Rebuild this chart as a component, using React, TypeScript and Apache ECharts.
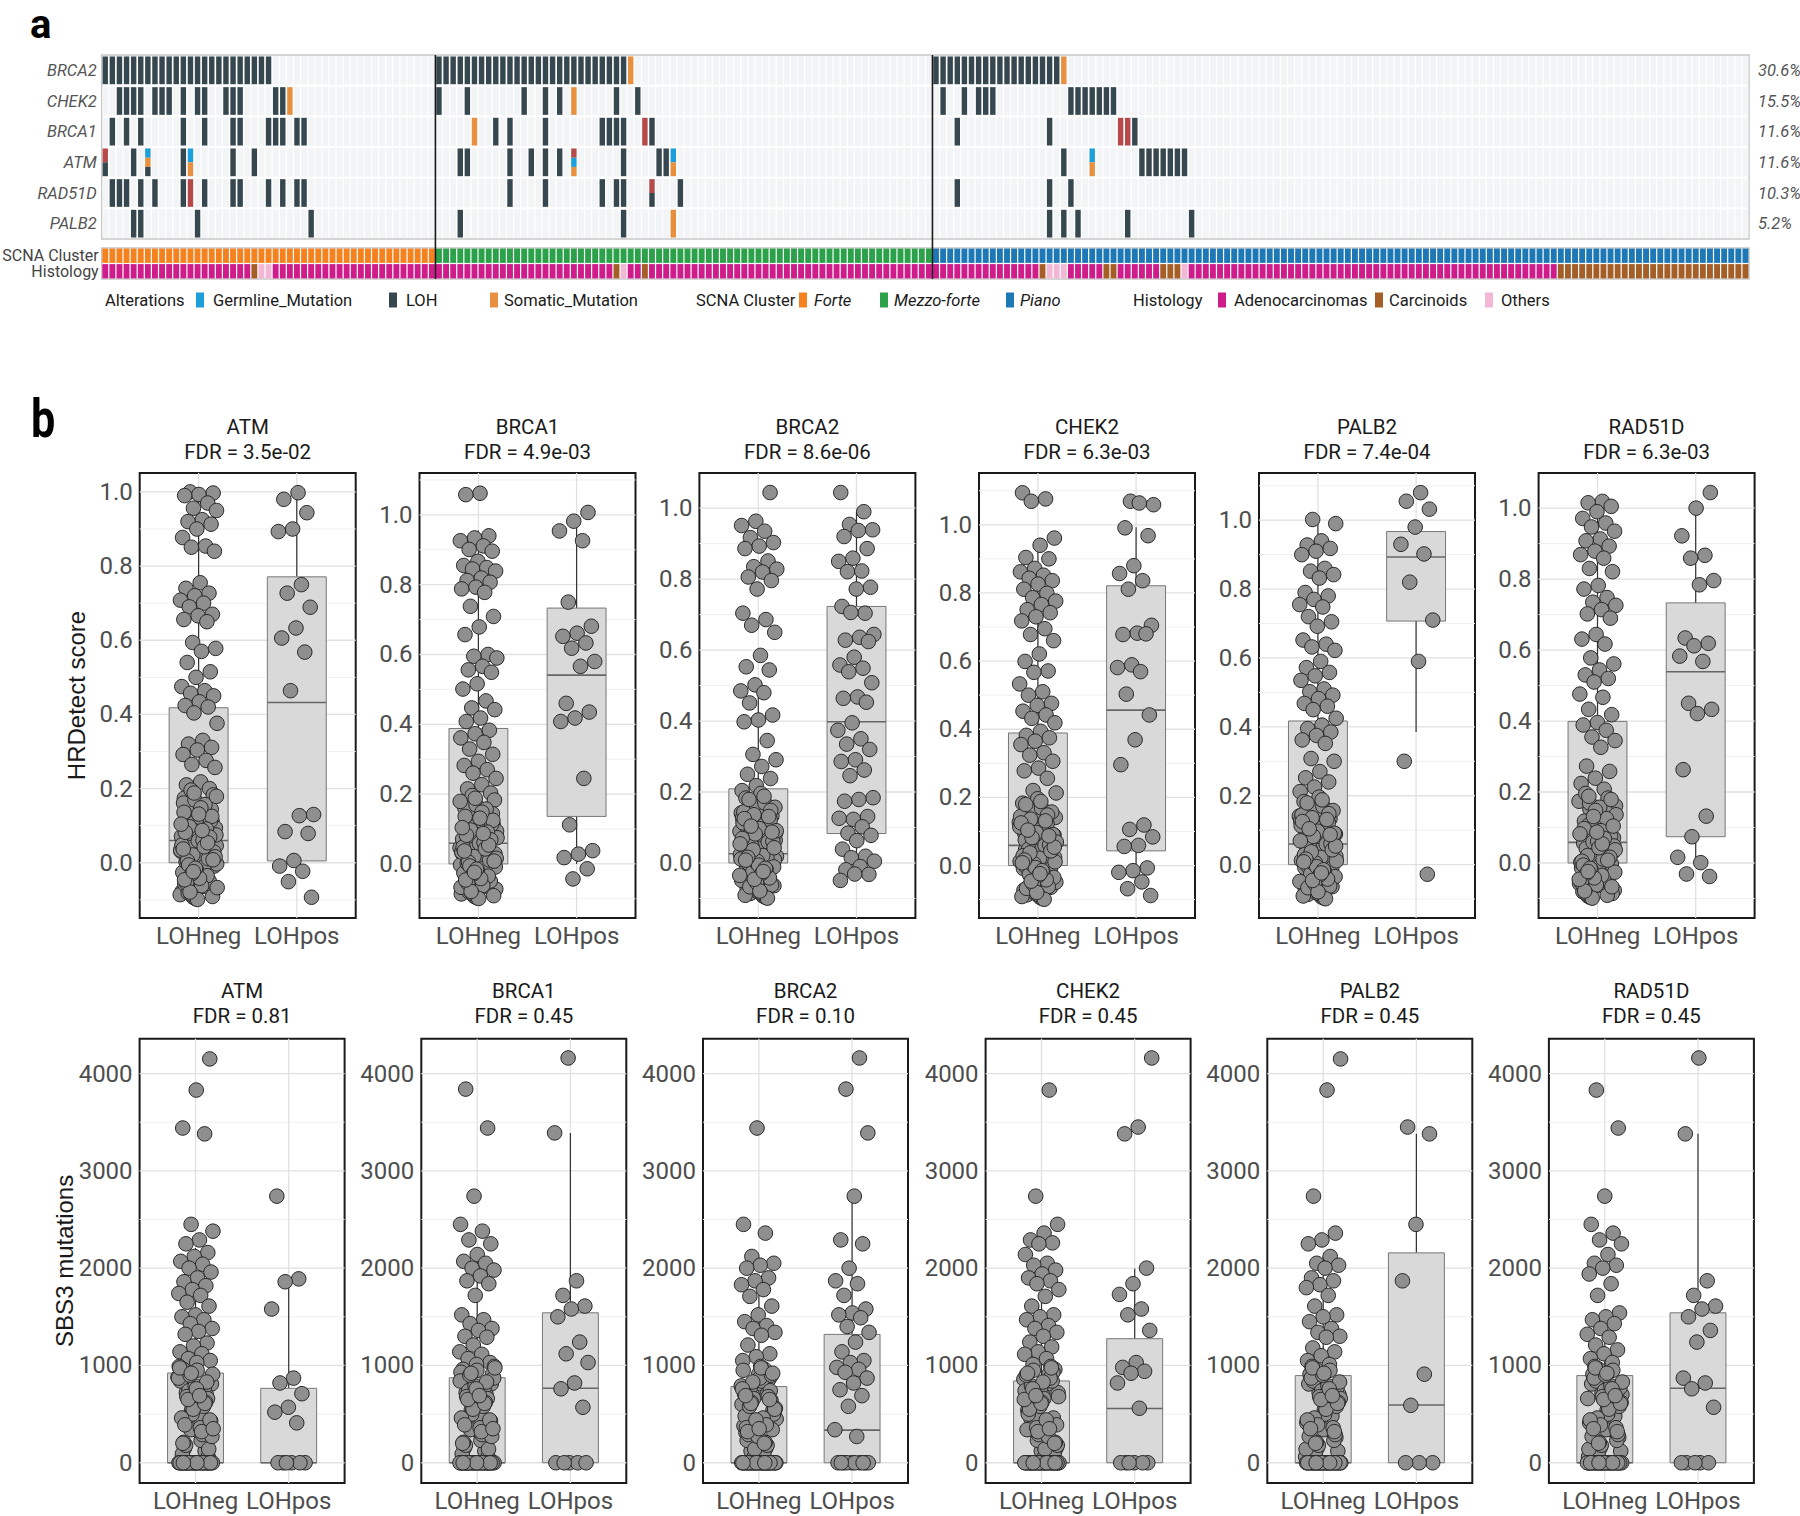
import React, { useEffect, useRef } from "react";
import * as echarts from "echarts";

const FONT = "Roboto, 'Noto Sans', sans-serif";
const AXIS_TITLE_FONT = "'Liberation Sans', Arial, Helvetica, sans-serif";

/* ================= Panel a : oncoprint ================= */
const geneRows = ["BRCA2", "CHEK2", "BRCA1", "ATM", "RAD51D", "PALB2"];
const genePercents = ["30.6%", "15.5%", "11.6%", "11.6%", "10.3%", "5.2%"];
const sampleCount = 232;

// [first column, last column, code]; codes: L = LOH, G = germline, S = somatic, R = other; stacked codes read top -> bottom
const altBRCA2 = [[0, 23, "L"], [47, 73, "L"], [74, 74, "S"], [117, 134, "L"], [135, 135, "S"]];
const altCHEK2 = [[2, 5, "L"], [7, 9, "L"], [11, 11, "L"], [13, 14, "L"], [17, 19, "L"], [24, 25, "L"], [26, 26, "S"], [47, 47, "L"], [51, 51, "L"], [59, 59, "L"], [62, 62, "L"], [64, 64, "L"], [66, 66, "S"], [72, 72, "L"], [75, 75, "L"], [118, 118, "L"], [121, 121, "L"], [123, 125, "L"], [136, 142, "L"]];
const altBRCA1 = [[1, 1, "L"], [3, 3, "L"], [5, 5, "L"], [11, 11, "L"], [14, 14, "L"], [18, 19, "L"], [23, 25, "L"], [27, 28, "L"], [52, 52, "S"], [55, 55, "L"], [57, 57, "L"], [62, 62, "L"], [70, 73, "L"], [76, 76, "R"], [77, 77, "L"], [120, 120, "L"], [133, 133, "L"], [143, 144, "R"], [145, 145, "L"]];
const altATM = [[0, 0, "RL"], [4, 4, "L"], [6, 6, "GSL"], [11, 11, "L"], [12, 12, "GS"], [18, 18, "L"], [21, 21, "L"], [50, 51, "L"], [57, 57, "L"], [60, 60, "L"], [62, 62, "L"], [64, 64, "L"], [66, 66, "RGS"], [73, 73, "L"], [78, 79, "L"], [80, 80, "GS"], [135, 135, "L"], [139, 139, "GS"], [146, 152, "L"]];
const altRAD51D = [[1, 3, "L"], [5, 5, "L"], [7, 7, "L"], [11, 11, "L"], [12, 12, "R"], [14, 14, "L"], [18, 19, "L"], [23, 23, "L"], [25, 25, "L"], [27, 28, "L"], [57, 57, "L"], [62, 62, "L"], [70, 70, "L"], [72, 73, "L"], [77, 77, "RL"], [81, 81, "L"], [120, 120, "L"], [133, 133, "L"], [136, 136, "L"]];
const altPALB2 = [[4, 5, "L"], [13, 13, "L"], [29, 29, "L"], [50, 50, "L"], [73, 73, "L"], [80, 80, "S"], [133, 133, "L"], [135, 135, "L"], [137, 137, "L"], [144, 144, "L"], [153, 153, "L"]];

const annotationRows = ["SCNA Cluster", "Histology"];
const scnaBlocks = [[0, 46, "Forte"], [47, 116, "Mezzo-forte"], [117, 231, "Piano"]];
const histologyBlocks = [
  [0, 20, "Adenocarcinomas"], [21, 21, "Carcinoids"], [22, 23, "Others"],
  [24, 71, "Adenocarcinomas"], [72, 72, "Carcinoids"], [73, 73, "Others"],
  [74, 75, "Adenocarcinomas"], [76, 76, "Carcinoids"], [77, 131, "Adenocarcinomas"],
  [132, 132, "Carcinoids"], [133, 135, "Others"], [136, 140, "Adenocarcinomas"],
  [141, 142, "Carcinoids"], [143, 148, "Adenocarcinomas"], [149, 151, "Carcinoids"],
  [152, 152, "Others"], [153, 204, "Adenocarcinomas"], [205, 231, "Carcinoids"],
];

const alterationLegend = [["Germline_Mutation", "G"], ["LOH", "L"], ["Somatic_Mutation", "S"]];
const scnaLegend = ["Forte", "Mezzo-forte", "Piano"];
const histologyLegend = ["Adenocarcinomas", "Carcinoids", "Others"];

const alterationColors: any = { G: "#1ca0db", L: "#36474f", S: "#e8903f", R: "#b6494a" };
const scnaColors: any = { Forte: "#f5821f", "Mezzo-forte": "#2ba14a", Piano: "#1e78b6" };
const histologyColors: any = { Adenocarcinomas: "#d01c8b", Carcinoids: "#a65e27", Others: "#f2b7d4" };

/* ================= Panel b : box plots ================= */
const panelGenes = ["ATM", "BRCA1", "BRCA2", "CHEK2", "PALB2", "RAD51D"];
const groupLabels = ["LOHneg", "LOHpos"];
const hrdFdr = ["3.5e-02", "4.9e-03", "8.6e-06", "6.3e-03", "7.4e-04", "6.3e-03"];
const sbsFdr = ["0.81", "0.45", "0.10", "0.45", "0.45", "0.45"];

const hrdAxisRanges = [[-0.149, 1.051], [-0.155, 1.12], [-0.155, 1.099], [-0.154, 1.152], [-0.155, 1.137], [-0.155, 1.099]];
const hrdMajorTicks = [0, 0.2, 0.4, 0.6, 0.8, 1.0];
const hrdMinorTicks = [-0.1, 0.1, 0.3, 0.5, 0.7, 0.9, 1.1];
const sbsAxisRange = [-208, 4358];
const sbsMajorTicks = [0, 1000, 2000, 3000, 4000];
const sbsMinorTicks = [500, 1500, 2500, 3500];

// HRDetect score, LOHneg: low-score samples shared by all genes
const hrdNegLow = [
  0.152, 0.031, -0.064, 0.118, 0.007, -0.021, 0.174, 0.089, -0.093, 0.046,
  0.133, -0.038, 0.012, 0.101, -0.077, 0.064, 0.196, -0.009, 0.027, -0.052,
  0.141, 0.078, -0.086, 0.003, 0.056, 0.112, -0.031, 0.161, 0.019, -0.069,
  0.094, 0.038, -0.014, 0.127, -0.097, 0.071, 0.009, -0.045, 0.183, 0.052,
  -0.058, 0.024, 0.106, -0.003, 0.067, -0.081, 0.144, 0.015, -0.026, 0.085,
  0.041, -0.072, 0.122, 0.002, -0.049, 0.169, 0.034, -0.011, 0.097, -0.091,
  0.059, 0.136, -0.035, 0.021, 0.075, -0.062, 0.005, 0.113, -0.018, 0.048,
  0.157, -0.084, 0.029, -0.042, 0.082, 0.011, 0.188, -0.067, 0.061, -0.006,
  0.125, -0.099, 0.037, 0.091, -0.029, 0.016, 0.148, -0.055, 0.069, -0.015,
  0.104, 0.043, -0.079, 0.008, 0.131, -0.046, 0.054, -0.024, 0.179, 0.087,
];
// HRDetect score, LOHneg: higher-score samples per gene
const hrdNegATM = [1.0, 0.997, 0.993, 0.99, 0.97, 0.956, 0.95, 0.925, 0.92, 0.913, 0.9, 0.877, 0.854, 0.851, 0.84, 0.755, 0.74, 0.727, 0.72, 0.708, 0.7, 0.69, 0.67, 0.666, 0.656, 0.65, 0.594, 0.578, 0.57, 0.54, 0.515, 0.5, 0.475, 0.464, 0.457, 0.45, 0.434, 0.424, 0.42, 0.404, 0.376, 0.33, 0.32, 0.311, 0.304, 0.292, 0.276, 0.265, 0.257, 0.218, 0.21, 0.2];
const hrdNegBRCA1 = [1.062, 1.058, 0.94, 0.934, 0.926, 0.911, 0.901, 0.896, 0.867, 0.855, 0.849, 0.845, 0.839, 0.819, 0.812, 0.807, 0.793, 0.788, 0.778, 0.738, 0.709, 0.679, 0.657, 0.6, 0.595, 0.59, 0.566, 0.556, 0.549, 0.516, 0.501, 0.467, 0.447, 0.442, 0.418, 0.408, 0.383, 0.373, 0.361, 0.348, 0.329, 0.314, 0.294, 0.282, 0.27, 0.26, 0.245, 0.227, 0.215, 0.203];
const hrdNegBRCA2 = [1.044, 0.963, 0.951, 0.935, 0.917, 0.903, 0.893, 0.886, 0.851, 0.835, 0.828, 0.82, 0.806, 0.796, 0.772, 0.704, 0.686, 0.67, 0.65, 0.585, 0.553, 0.544, 0.502, 0.485, 0.48, 0.451, 0.417, 0.403, 0.398, 0.345, 0.306, 0.291, 0.272, 0.25, 0.238, 0.218, 0.204];
const hrdNegCHEK2 = [1.094, 1.076, 1.069, 0.961, 0.94, 0.904, 0.9, 0.872, 0.862, 0.852, 0.843, 0.836, 0.826, 0.811, 0.799, 0.786, 0.776, 0.766, 0.751, 0.742, 0.73, 0.718, 0.695, 0.678, 0.66, 0.621, 0.599, 0.571, 0.567, 0.533, 0.51, 0.5, 0.476, 0.47, 0.453, 0.442, 0.432, 0.419, 0.394, 0.382, 0.375, 0.365, 0.355, 0.331, 0.324, 0.306, 0.286, 0.278, 0.256, 0.22, 0.213];
const hrdNegPALB2 = [1.002, 0.99, 0.94, 0.928, 0.918, 0.91, 0.9, 0.86, 0.852, 0.842, 0.832, 0.79, 0.78, 0.77, 0.755, 0.748, 0.72, 0.705, 0.692, 0.652, 0.64, 0.632, 0.622, 0.59, 0.572, 0.558, 0.548, 0.535, 0.51, 0.502, 0.492, 0.482, 0.468, 0.46, 0.45, 0.425, 0.405, 0.395, 0.385, 0.375, 0.362, 0.352, 0.308, 0.3, 0.27, 0.252, 0.24, 0.225, 0.212];
const hrdNegRAD51D = [1.019, 1.015, 1.005, 0.99, 0.971, 0.958, 0.947, 0.935, 0.913, 0.908, 0.893, 0.879, 0.869, 0.859, 0.83, 0.821, 0.782, 0.772, 0.748, 0.735, 0.726, 0.714, 0.702, 0.69, 0.644, 0.631, 0.617, 0.578, 0.561, 0.544, 0.53, 0.52, 0.51, 0.476, 0.467, 0.433, 0.418, 0.396, 0.389, 0.374, 0.355, 0.345, 0.326, 0.273, 0.258, 0.239, 0.224, 0.208];

// HRDetect score, LOHpos
const hrdPosATM = [0.998, 0.98, 0.944, 0.9, 0.893, 0.75, 0.727, 0.689, 0.633, 0.606, 0.568, 0.464, 0.13, 0.127, 0.084, 0.079, 0.006, -0.009, -0.023, -0.051, -0.093];
const hrdPosBRCA1 = [1.007, 0.982, 0.954, 0.926, 0.75, 0.681, 0.661, 0.652, 0.633, 0.618, 0.58, 0.566, 0.46, 0.435, 0.418, 0.408, 0.245, 0.112, 0.038, 0.028, 0.018, -0.014, -0.043];
const hrdPosBRCA2 = [1.044, 0.99, 0.954, 0.939, 0.937, 0.92, 0.886, 0.859, 0.85, 0.823, 0.821, 0.777, 0.772, 0.723, 0.704, 0.706, 0.644, 0.636, 0.628, 0.624, 0.58, 0.558, 0.549, 0.539, 0.508, 0.468, 0.464, 0.453, 0.395, 0.374, 0.35, 0.335, 0.32, 0.291, 0.286, 0.262, 0.246, 0.184, 0.179, 0.174, 0.131, 0.123, 0.126, 0.102, 0.084, 0.078, 0.063, 0.039, 0.019, 0.015, 0.005, -0.01, -0.019, -0.032, -0.031, -0.049];
const hrdPosCHEK2 = [1.069, 1.059, 1.064, 0.991, 0.968, 0.88, 0.857, 0.836, 0.811, 0.705, 0.682, 0.678, 0.68, 0.589, 0.581, 0.569, 0.503, 0.442, 0.369, 0.296, 0.119, 0.106, 0.084, 0.059, 0.056, -0.007, -0.015, -0.02, -0.048, -0.068, -0.088];
const hrdPosPALB2 = [1.08, 1.055, 1.032, 0.98, 0.93, 0.902, 0.82, 0.71, 0.59, 0.3, -0.028];
const hrdPosRAD51D = [1.044, 1.0, 0.922, 0.867, 0.859, 0.796, 0.784, 0.634, 0.619, 0.612, 0.583, 0.568, 0.45, 0.433, 0.421, 0.263, 0.132, 0.074, 0.016, 0.001, -0.031, -0.038];

// box statistics [lower whisker, Q1, median, Q3, upper whisker]
const hrdBoxNeg = [[0, 0, 0.06, 0.418, 0.989], [0, 0, 0.059, 0.388, 0.955], [0, 0, 0.026, 0.209, 0.5], [0, 0, 0.059, 0.389, 0.96], [0, 0, 0.06, 0.417, 0.99], [0, 0, 0.058, 0.399, 0.971]];
const hrdBoxPos = [[0, 0.005, 0.432, 0.771, 0.989], [0, 0.136, 0.541, 0.733, 0.99], [0, 0.083, 0.398, 0.723, 0.99], [0, 0.043, 0.456, 0.821, 0.993], [0.385, 0.707, 0.893, 0.967, 0.99], [0, 0.074, 0.539, 0.733, 1.0]];

// SBS3 mutations, LOHneg: shared lower part and zeros
const sbsNegLow = [
  960, 120, 540, 880, 310, 720, 60, 450, 930, 260,
  640, 810, 380, 150, 700, 520, 990, 230, 860, 410,
  600, 90, 770, 340, 910, 480, 180, 660, 560, 840,
  290, 740, 430, 950, 210, 620, 500, 870, 360, 680,
  140, 790, 460, 580, 900, 270, 710, 390, 830, 550,
  975, 320, 650, 440, 760, 200, 610, 920, 350, 690,
];
const sbsNegZeros = [0, 0, 0, 0, 0, 0, 0, 0, 0, 0, 0, 0, 0, 0, 0, 0, 0, 0, 0, 0, 0, 0, 0, 0, 0, 0, 0, 0, 0, 0];
const sbsNegATM = [4150, 3830, 3440, 3380, 2450, 2380, 2290, 2250, 2160, 2120, 2070, 2040, 2000, 1960, 1900, 1860, 1820, 1780, 1740, 1720, 1650, 1610, 1520, 1500, 1470, 1430, 1380, 1350, 1320, 1230, 1200, 1140, 1120, 1070, 1050, 1030];
const sbsNegBRCA1 = [3840, 3440, 2740, 2450, 2380, 2290, 2250, 2140, 2070, 2050, 2000, 1980, 1920, 1870, 1840, 1720, 1520, 1470, 1430, 1380, 1360, 1300, 1290, 1210, 1140, 1115, 1070, 1030, 1010];
const sbsNegBRCA2 = [3440, 2450, 2360, 2120, 2050, 2030, 2000, 1900, 1870, 1830, 1780, 1710, 1610, 1520, 1450, 1410, 1380, 1340, 1310, 1210, 1120, 1090, 1050];
const sbsNegCHEK2 = [3830, 2740, 2450, 2360, 2290, 2260, 2250, 2140, 2050, 2030, 1980, 1940, 1900, 1870, 1840, 1780, 1710, 1610, 1520, 1500, 1470, 1410, 1380, 1340, 1300, 1240, 1190, 1140, 1115, 1070, 1010];
const sbsNegPALB2 = [4150, 3830, 2740, 2360, 2290, 2250, 2120, 2050, 2030, 2000, 1900, 1870, 1830, 1800, 1720, 1610, 1520, 1500, 1450, 1380, 1340, 1300, 1290, 1180, 1140, 1100, 1050, 1010];
const sbsNegRAD51D = [3830, 3440, 2740, 2450, 2360, 2290, 2250, 2140, 2050, 2030, 2000, 1940, 1840, 1720, 1540, 1500, 1470, 1430, 1380, 1320, 1290, 1210, 1160, 1120, 1070, 1030];

// SBS3 mutations, LOHpos
const sbsPosATM = [2740, 1890, 1860, 1580, 870, 820, 710, 570, 520, 410, 0, 0, 0, 0, 0, 0];
const sbsPosBRCA1 = [4160, 3390, 1870, 1720, 1610, 1580, 1500, 1240, 1120, 1030, 820, 760, 570, 0, 0, 0, 0, 0];
const sbsPosBRCA2 = [4160, 3840, 3390, 2740, 2290, 2250, 2000, 1870, 1840, 1720, 1580, 1540, 1520, 1490, 1400, 1340, 1240, 1140, 1050, 1030, 980, 960, 930, 870, 820, 750, 690, 580, 340, 270, 0, 0, 0, 0, 0, 0, 0, 0, 0, 0];
const sbsPosCHEK2 = [4160, 3450, 3380, 2000, 1840, 1730, 1580, 1520, 1360, 1030, 980, 940, 920, 820, 560, 0, 0, 0, 0, 0, 0];
const sbsPosPALB2 = [3450, 3380, 2450, 1870, 910, 590, 0, 0, 0];
const sbsPosRAD51D = [4160, 3380, 1870, 1720, 1610, 1580, 1500, 1360, 1240, 870, 820, 760, 570, 0, 0, 0, 0, 0];

const sbsBoxNeg = [[0, 0, 0, 922, 2208], [0, 0, 0, 874, 2142], [0, 0, 0, 783, 1741], [0, 0, 0, 841, 1996], [0, 0, 0, 896, 2124], [0, 0, 0, 896, 1540]];
const sbsBoxPos = [[0, 0, 0, 765, 1858], [0, 0, 765, 1541, 3388], [0, 0, 335, 1319, 2743], [0, 0, 557, 1275, 1996], [0, 0, 594, 2157, 3381], [0, 0, 765, 1541, 3381]];

/* ================= layout ================= */
const ONCO = { left: 101.7, top: 55, width: 1647.3, height: 184 };
const ANNOT = { left: 101.7, top: 248, width: 1647.3, height: 31 };
const ROW1 = { lefts: [139.7, 419.5, 699.4, 979, 1259, 1538.6], top: 473, width: 216, height: 445, titleY: 427, fdrY: 452 };
const ROW2 = { lefts: [139.6, 421.3, 703, 985.6, 1267.3, 1548.9], top: 1038.7, width: 205, height: 444.3, titleY: 990.7, fdrY: 1016 };

function expandBlocks(blocks: any[]) {
  const out: string[] = new Array(sampleCount);
  blocks.forEach(([a, b, v]: any) => { for (let c = a; c <= b; c++) out[c] = v; });
  return out;
}

function jitter(i: number, seed: number) {
  const f = (i * 0.6180339887 + seed * 0.2718281) % 1;
  return (f - 0.5) * 0.38;
}

function buildOption() {
  const grid: any[] = [];
  const xAxis: any[] = [];
  const yAxis: any[] = [];
  const series: any[] = [];
  const graphic: any[] = [];

  const sampleIds = Array.from({ length: sampleCount }, (_, i) => "S" + (i + 1));
  const hiddenCat = (gi: number) => ({ type: "category", gridIndex: gi, data: sampleIds, show: false });

  // ---------- oncoprint ----------
  grid.push({ ...ONCO, show: true, borderColor: "#c8c8c8", borderWidth: 1.5, backgroundColor: "#ffffff", containLabel: false, outerBoundsMode: "none" });
  grid.push({ ...ANNOT, show: true, borderColor: "#c8c8c8", borderWidth: 1.5, backgroundColor: "#ffffff", containLabel: false, outerBoundsMode: "none" });
  xAxis.push(hiddenCat(0));
  xAxis.push(hiddenCat(1));
  const catY = (gi: number, data: string[], extra: any) => ({
    type: "category", gridIndex: gi, data, inverse: true,
    axisLine: { show: false }, axisTick: { show: false }, splitLine: { show: false },
    axisLabel: { interval: 0, fontFamily: FONT, fontSize: 16.5, color: "#555555", ...extra },
  });
  yAxis.push(catY(0, geneRows, { fontStyle: "italic", margin: 5 }));
  yAxis.push({ ...catY(0, genePercents, { fontStyle: "italic", margin: 9 }), position: "right" });
  yAxis.push(catY(1, annotationRows, { color: "#444444", margin: 3, fontSize: 16 }));

  const bgCells: number[][] = [];
  for (let r = 0; r < geneRows.length; r++) for (let c = 0; c < sampleCount; c++) bgCells.push([c, r]);
  series.push({
    type: "custom", xAxisIndex: 0, yAxisIndex: 0, data: bgCells, silent: true, z: 1,
    renderItem: (params: any, api: any) => {
      const p = api.coord([api.value(0), api.value(1)]);
      const s = api.size([1, 1]);
      return { type: "rect", shape: { x: p[0] - s[0] / 2 + 0.6, y: p[1] - s[1] / 2 + 1, width: s[0] - 1.2, height: s[1] - 2 }, style: { fill: "#f2f4f5" } };
    },
  });

  const altCells: any[] = [];
  [altBRCA2, altCHEK2, altBRCA1, altATM, altRAD51D, altPALB2].forEach((blocks: any[], r) => {
    blocks.forEach(([a, b, code]: any) => { for (let c = a; c <= b; c++) altCells.push([c, r, code]); });
  });
  series.push({
    type: "custom", xAxisIndex: 0, yAxisIndex: 0, data: altCells.map((a) => [a[0], a[1]]), silent: true, z: 2,
    renderItem: (params: any, api: any) => {
      const cell = altCells[params.dataIndex];
      const p = api.coord([cell[0], cell[1]]);
      const s = api.size([1, 1]);
      const w = s[0] * 0.76;
      const h = s[1] - 3;
      const x = p[0] - w / 2;
      const y0 = p[1] - h / 2;
      const parts = String(cell[2]).split("");
      const ph = h / parts.length;
      return {
        type: "group",
        children: parts.map((code: string, i: number) => ({ type: "rect", shape: { x, y: y0 + i * ph, width: w, height: ph }, style: { fill: alterationColors[code] } })),
      };
    },
  });

  const dividerCols = scnaBlocks.slice(1).map((b: any) => [b[0], 0]);
  const dividerRender = (extendBottom: number) => (params: any, api: any) => {
    const s = api.size([1, 1]);
    const x = api.coord([api.value(0), 0])[0] - s[0] / 2;
    const cs = params.coordSys;
    return { type: "line", shape: { x1: x, y1: cs.y, x2: x, y2: cs.y + cs.height + extendBottom }, style: { stroke: "#1a1a1a", lineWidth: 1.6 } };
  };
  series.push({ type: "custom", xAxisIndex: 0, yAxisIndex: 0, data: dividerCols, silent: true, z: 5, renderItem: dividerRender(9) });

  const scnaByCol = expandBlocks(scnaBlocks);
  const histByCol = expandBlocks(histologyBlocks);
  const annotCells: number[][] = [];
  for (let r = 0; r < 2; r++) for (let c = 0; c < sampleCount; c++) annotCells.push([c, r]);
  series.push({
    type: "custom", xAxisIndex: 1, yAxisIndex: 2, data: annotCells, silent: true, z: 2,
    renderItem: (params: any, api: any) => {
      const c = api.value(0);
      const r = api.value(1);
      const p = api.coord([c, r]);
      const s = api.size([1, 1]);
      const fill = r === 0 ? scnaColors[scnaByCol[c]] : histologyColors[histByCol[c]];
      return { type: "rect", shape: { x: p[0] - s[0] / 2 + 0.6, y: p[1] - s[1] / 2 + 0.6, width: s[0] - 1.2, height: s[1] - 1.2 }, style: { fill } };
    },
  });
  series.push({ type: "custom", xAxisIndex: 1, yAxisIndex: 2, data: dividerCols, silent: true, z: 5, renderItem: dividerRender(0) });

  // panel labels
  graphic.push({ type: "text", x: 30, y: 24, style: { text: "a", fontFamily: FONT, fontWeight: "bold", fontSize: 40, fill: "#000", align: "left", verticalAlign: "middle" } });
  graphic.push({ type: "text", x: 31, y: 419, scaleX: 0.8, style: { text: "b", fontFamily: FONT, fontWeight: "bold", fontSize: 54, fill: "#000", align: "left", verticalAlign: "middle" } });

  // legend
  const LEG_Y = 300;
  const legendText = (x: number, text: string, italic = false) =>
    graphic.push({ type: "text", x, y: LEG_Y, style: { text, fontFamily: FONT, fontSize: 16.5, fontStyle: italic ? "italic" : "normal", fill: "#1a1a1a", align: "left", verticalAlign: "middle" } });
  const legendSwatch = (x: number, color: string) =>
    graphic.push({ type: "rect", shape: { x, y: LEG_Y - 7.5, width: 8, height: 15 }, style: { fill: color } });
  const altX = [[196, 213], [389, 406], [490, 504]];
  const scnaX = [[799, 814], [880, 894], [1006, 1020]];
  const histX = [[1218, 1234], [1375, 1389], [1485, 1501]];
  legendText(105, "Alterations");
  alterationLegend.forEach(([label, code], i) => { legendSwatch(altX[i][0], alterationColors[code]); legendText(altX[i][1], label); });
  legendText(696, "SCNA Cluster");
  scnaLegend.forEach((label, i) => { legendSwatch(scnaX[i][0], scnaColors[label]); legendText(scnaX[i][1], label, true); });
  legendText(1133, "Histology");
  histologyLegend.forEach((label, i) => { legendSwatch(histX[i][0], histologyColors[label]); legendText(histX[i][1], label); });

  // ---------- box plot panels ----------
  const hrdNeg = [hrdNegATM, hrdNegBRCA1, hrdNegBRCA2, hrdNegCHEK2, hrdNegPALB2, hrdNegRAD51D];
  const hrdPos = [hrdPosATM, hrdPosBRCA1, hrdPosBRCA2, hrdPosCHEK2, hrdPosPALB2, hrdPosRAD51D];
  const sbsNeg = [sbsNegATM, sbsNegBRCA1, sbsNegBRCA2, sbsNegCHEK2, sbsNegPALB2, sbsNegRAD51D];
  const sbsPos = [sbsPosATM, sbsPosBRCA1, sbsPosBRCA2, sbsPosCHEK2, sbsPosPALB2, sbsPosRAD51D];

  for (let k = 0; k < 12; k++) {
    const isHrd = k < 6;
    const g = k % 6;
    const L = isHrd ? ROW1 : ROW2;
    const gi = grid.length;
    const left = L.lefts[g];
    grid.push({ left, top: L.top, width: L.width, height: L.height, show: true, borderColor: "#1a1a1a", borderWidth: 2, backgroundColor: "#ffffff", containLabel: false, outerBoundsMode: "none" });
    const xi = xAxis.length;
    const yi = yAxis.length;
    const range = isHrd ? hrdAxisRanges[g] : sbsAxisRange;
    const major = isHrd ? hrdMajorTicks : sbsMajorTicks;
    const minor = isHrd ? hrdMinorTicks : sbsMinorTicks;
    xAxis.push({
      type: "value", gridIndex: gi, min: 0.4, max: 2.6,
      axisLine: { show: false }, axisTick: { show: false }, splitLine: { show: false },
      axisLabel: { customValues: [1, 2], formatter: (v: number) => groupLabels[Math.round(v) - 1], fontFamily: FONT, fontSize: 24, color: "#4d4d4d", margin: 6 },
    });
    yAxis.push({
      type: "value", gridIndex: gi, min: range[0], max: range[1],
      axisLine: { show: false }, axisTick: { show: false }, splitLine: { show: false },
      axisLabel: { customValues: major, formatter: (v: number) => (isHrd ? v.toFixed(1) : String(Math.round(v))), fontFamily: FONT, fontSize: 24, color: "#4d4d4d", margin: 7 },
    });

    // grid lines
    series.push({
      type: "custom", xAxisIndex: xi, yAxisIndex: yi, data: [[1, major[0]]], silent: true, z: 1,
      renderItem: (params: any, api: any) => {
        const cs = params.coordSys;
        const children: any[] = [];
        const hLine = (v: number, color: string, w: number) => {
          const y = api.coord([1, v])[1];
          if (y >= cs.y && y <= cs.y + cs.height) children.push({ type: "line", shape: { x1: cs.x, y1: y, x2: cs.x + cs.width, y2: y }, style: { stroke: color, lineWidth: w } });
        };
        minor.forEach((v: number) => hLine(v, "#f0f0f0", 1));
        major.forEach((v: number) => hLine(v, "#e1e1e1", 1.3));
        [1, 2].forEach((xv) => {
          const x = api.coord([xv, major[0]])[0];
          children.push({ type: "line", shape: { x1: x, y1: cs.y, x2: x, y2: cs.y + cs.height }, style: { stroke: "#e1e1e1", lineWidth: 1.3 } });
        });
        return { type: "group", children };
      },
    });

    // boxes
    const boxNeg = isHrd ? hrdBoxNeg[g] : sbsBoxNeg[g];
    const boxPos = isHrd ? hrdBoxPos[g] : sbsBoxPos[g];
    series.push({
      type: "custom", xAxisIndex: xi, yAxisIndex: yi, silent: true, z: 2,
      data: [[1, ...boxNeg], [2, ...boxPos]],
      renderItem: (params: any, api: any) => {
        const x = api.value(0);
        const lo = api.value(1), q1 = api.value(2), md = api.value(3), q3 = api.value(4), hi = api.value(5);
        const hw = 0.3;
        const c = (xx: number, v: number) => api.coord([xx, v]);
        const tl = c(x - hw, q3);
        const br = c(x + hw, q1);
        const line = (a: number[], b: number[], stroke: string, w: number) => ({ type: "line", shape: { x1: a[0], y1: a[1], x2: b[0], y2: b[1] }, style: { stroke, lineWidth: w } });
        return {
          type: "group",
          children: [
            line(c(x, hi), c(x, q3), "#333333", 1.2),
            line(c(x, lo), c(x, q1), "#333333", 1.2),
            { type: "rect", shape: { x: tl[0], y: tl[1], width: br[0] - tl[0], height: br[1] - tl[1] }, style: { fill: "#d9d9d9", stroke: "#777777", lineWidth: 1 } },
            line(c(x - hw, md), c(x + hw, md), "#666666", 1.6),
          ],
        };
      },
    });

    // points
    const negVals = isHrd ? [...hrdNeg[g], ...hrdNegLow] : [...sbsNeg[g], ...sbsNegLow, ...sbsNegZeros];
    const posVals = isHrd ? hrdPos[g] : sbsPos[g];
    const pts: number[][] = [];
    negVals.forEach((v, i) => pts.push([1 + jitter(i, k + 1), v]));
    posVals.forEach((v, i) => pts.push([2 + jitter(i, k + 13), v]));
    series.push({
      type: "scatter", xAxisIndex: xi, yAxisIndex: yi, data: pts, symbol: "circle", symbolSize: 14.5, z: 3, silent: true,
      itemStyle: { color: "#8f8f8f", borderColor: "#262626", borderWidth: 1, opacity: 1 },
    });

    // titles
    const cx = left + L.width / 2;
    graphic.push({ type: "text", x: cx, y: L.titleY, style: { text: panelGenes[g], fontFamily: FONT, fontSize: 20.5, fill: "#1a1a1a", align: "center", verticalAlign: "middle" } });
    graphic.push({ type: "text", x: cx, y: L.fdrY, style: { text: "FDR = " + (isHrd ? hrdFdr[g] : sbsFdr[g]), fontFamily: FONT, fontSize: 20.5, fill: "#1a1a1a", align: "center", verticalAlign: "middle" } });
  }

  graphic.push({ type: "text", x: 76, y: ROW1.top + ROW1.height / 2, rotation: Math.PI / 2, style: { text: "HRDetect score", fontFamily: AXIS_TITLE_FONT, fontSize: 24, fill: "#1a1a1a", align: "center", verticalAlign: "middle" } });
  graphic.push({ type: "text", x: 64, y: ROW2.top + ROW2.height / 2, rotation: Math.PI / 2, style: { text: "SBS3 mutations", fontFamily: AXIS_TITLE_FONT, fontSize: 24, fill: "#1a1a1a", align: "center", verticalAlign: "middle" } });

  return { animation: false, backgroundColor: "#ffffff", grid, xAxis, yAxis, series, graphic };
}

export default function App() {
  const ref = useRef<HTMLDivElement>(null);
  useEffect(() => {
    if (!ref.current) return;
    const chart = echarts.init(ref.current, null, { renderer: "svg", width: 1800, height: 1516 });
    chart.setOption(buildOption() as any);
    return () => chart.dispose();
  }, []);
  return <div ref={ref} style={{ position: "absolute", left: 0, top: 0, width: 1800, height: 1516, background: "#ffffff" }} />;
}
